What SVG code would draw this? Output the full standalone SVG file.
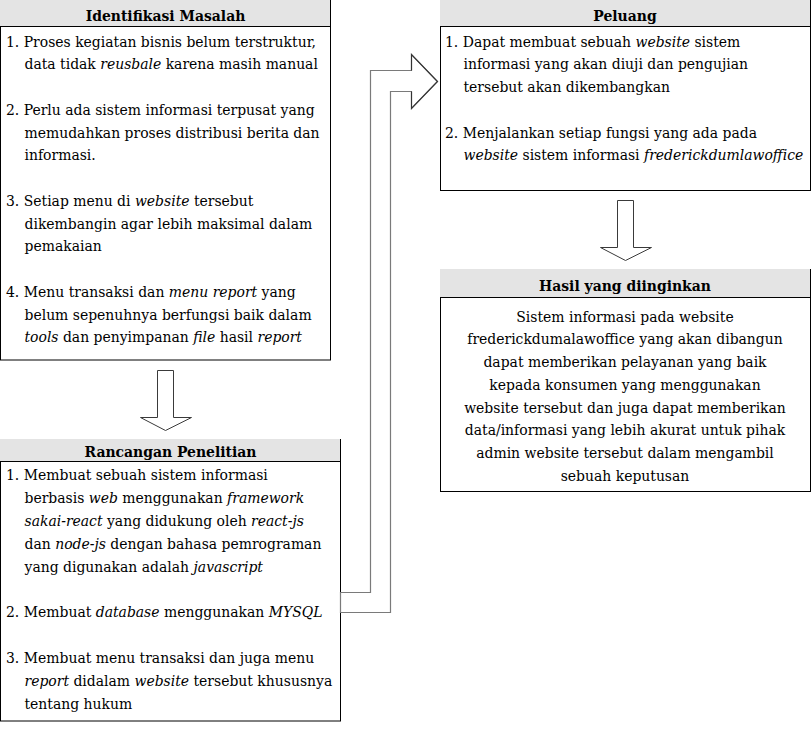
<svg xmlns="http://www.w3.org/2000/svg" width="811" height="731" viewBox="0 0 811 731">
<style>
text{font-family:"DejaVu Serif Condensed","DejaVu Serif",serif;font-stretch:condensed;font-size:15.5px;fill:#000}
.t{font-weight:bold;text-anchor:middle}
.c{text-anchor:middle}
.i{font-style:italic}
.hd{fill:#e4e4e4}
.bd{fill:#fff;stroke:#000;stroke-width:1}
.ln{stroke:#000;stroke-width:1}
.da{fill:#fff;stroke:#3a3a3a;stroke-width:1}
.ba{fill:#fff;stroke:#7a7a7a;stroke-width:1.2}
.bh{fill:none;stroke:#333;stroke-width:1.1}
</style>
<rect width="811" height="731" fill="#fff"/>
<g id="connectors">
<polygon class="da" points="157.5,370.5 173.5,370.5 173.5,417.5 191.5,417.5 165.5,430.5 140.5,417.5 157.5,417.5"/>
<polygon class="da" points="617.5,200.5 633.5,200.5 633.5,247.5 651.5,247.5 625.5,260.5 600.5,247.5 617.5,247.5"/>
</g>
<g id="identifikasi-masalah">
<rect class="hd" x="0" y="0" width="331" height="26"/>
<rect class="bd" x="0.5" y="26.5" width="330" height="333.5"/>
<line class="ln" x1="330.5" y1="0" x2="330.5" y2="26.5"/>
<text class="t" x="165.5" y="20.5">Identifikasi Masalah</text>
<text x="6" y="46.5">1. Proses kegiatan bisnis belum terstruktur,</text>
<text x="24.5" y="69.25">data tidak <tspan class="i">reusbale</tspan> karena masih manual</text>
<text x="6" y="114.75">2. Perlu ada sistem informasi terpusat yang</text>
<text x="24.5" y="137.5">memudahkan proses distribusi berita dan</text>
<text x="24.5" y="160.25">informasi.</text>
<text x="6" y="205.75">3. Setiap menu di <tspan class="i">website</tspan> tersebut</text>
<text x="24.5" y="228.5">dikembangin agar lebih maksimal dalam</text>
<text x="24.5" y="251.25">pemakaian</text>
<text x="6" y="296.75">4. Menu transaksi dan <tspan class="i">menu report</tspan> yang</text>
<text x="24.5" y="319.5">belum sepenuhnya berfungsi baik dalam</text>
<text x="24.5" y="342.25"><tspan class="i">tools</tspan> dan penyimpanan <tspan class="i">file</tspan> hasil <tspan class="i">report</tspan></text>
</g>
<g id="rancangan-penelitian">
<rect class="hd" x="0" y="439" width="341" height="23"/>
<rect class="bd" x="0.5" y="461.5" width="340" height="259.5"/>
<line class="ln" x1="340.5" y1="439" x2="340.5" y2="461.5"/>
<text class="t" x="170.5" y="457">Rancangan Penelitian</text>
<text x="6" y="480">1. Membuat sebuah sistem informasi</text>
<text x="24.5" y="502.9">berbasis <tspan class="i">web</tspan> menggunakan <tspan class="i">framework</tspan></text>
<text x="24.5" y="525.8"><tspan class="i">sakai-react</tspan> yang didukung oleh <tspan class="i">react-js</tspan></text>
<text x="24.5" y="548.7">dan <tspan class="i">node-js</tspan> dengan bahasa pemrograman</text>
<text x="24.5" y="571.6">yang digunakan adalah <tspan class="i">javascript</tspan></text>
<text x="6" y="617.4">2. Membuat <tspan class="i">database</tspan> menggunakan <tspan class="i">MYSQL</tspan></text>
<text x="6" y="663.2">3. Membuat menu transaksi dan juga menu</text>
<text x="24.5" y="686.1"><tspan class="i">report</tspan> didalam <tspan class="i">website</tspan> tersebut khususnya</text>
<text x="24.5" y="709">tentang hukum</text>
</g>
<g id="peluang">
<rect class="hd" x="440" y="0" width="371" height="26"/>
<rect class="bd" x="440.5" y="26.5" width="370" height="164"/>
<line class="ln" x1="810.5" y1="0" x2="810.5" y2="26.5"/>
<text class="t" x="625" y="20.5">Peluang</text>
<text x="445" y="46.5">1. Dapat membuat sebuah <tspan class="i">website</tspan> sistem</text>
<text x="463.5" y="69.25">informasi yang akan diuji dan pengujian</text>
<text x="463.5" y="92">tersebut akan dikembangkan</text>
<text x="445" y="137.5">2. Menjalankan setiap fungsi yang ada pada</text>
<text x="463.5" y="160.25"><tspan class="i">website</tspan> sistem informasi <tspan class="i">frederickdumlawoffice</tspan></text>
</g>
<g id="hasil-yang-diinginkan">
<rect class="hd" x="440" y="269" width="371" height="28"/>
<rect class="bd" x="440.5" y="297.5" width="370" height="194"/>
<line class="ln" x1="810.5" y1="269" x2="810.5" y2="297.5"/>
<text class="t" x="625" y="291">Hasil yang diinginkan</text>
<text class="c" x="625" y="321.5">Sistem informasi pada website</text>
<text class="c" x="625" y="344.25">frederickdumalawoffice yang akan dibangun</text>
<text class="c" x="625" y="367">dapat memberikan pelayanan yang baik</text>
<text class="c" x="625" y="389.75">kepada konsumen yang menggunakan</text>
<text class="c" x="625" y="412.5">website tersebut dan juga dapat memberikan</text>
<text class="c" x="625" y="435.25">data/informasi yang lebih akurat untuk pihak</text>
<text class="c" x="625" y="458">admin website tersebut dalam mengambil</text>
<text class="c" x="625" y="480.75">sebuah keputusan</text>
</g>
<g id="connector-bent">
<polygon class="ba" points="340.5,592.5 370.5,592.5 370.5,70.5 411.5,70.5 411.5,54.5 437.5,81.5 411.5,108.5 411.5,91.5 390.5,91.5 390.5,612.5 340.5,612.5"/>
<polyline class="bh" points="411.5,70.5 411.5,54.5 437.5,81.5 411.5,108.5 411.5,91.5"/>
</g>
</svg>
